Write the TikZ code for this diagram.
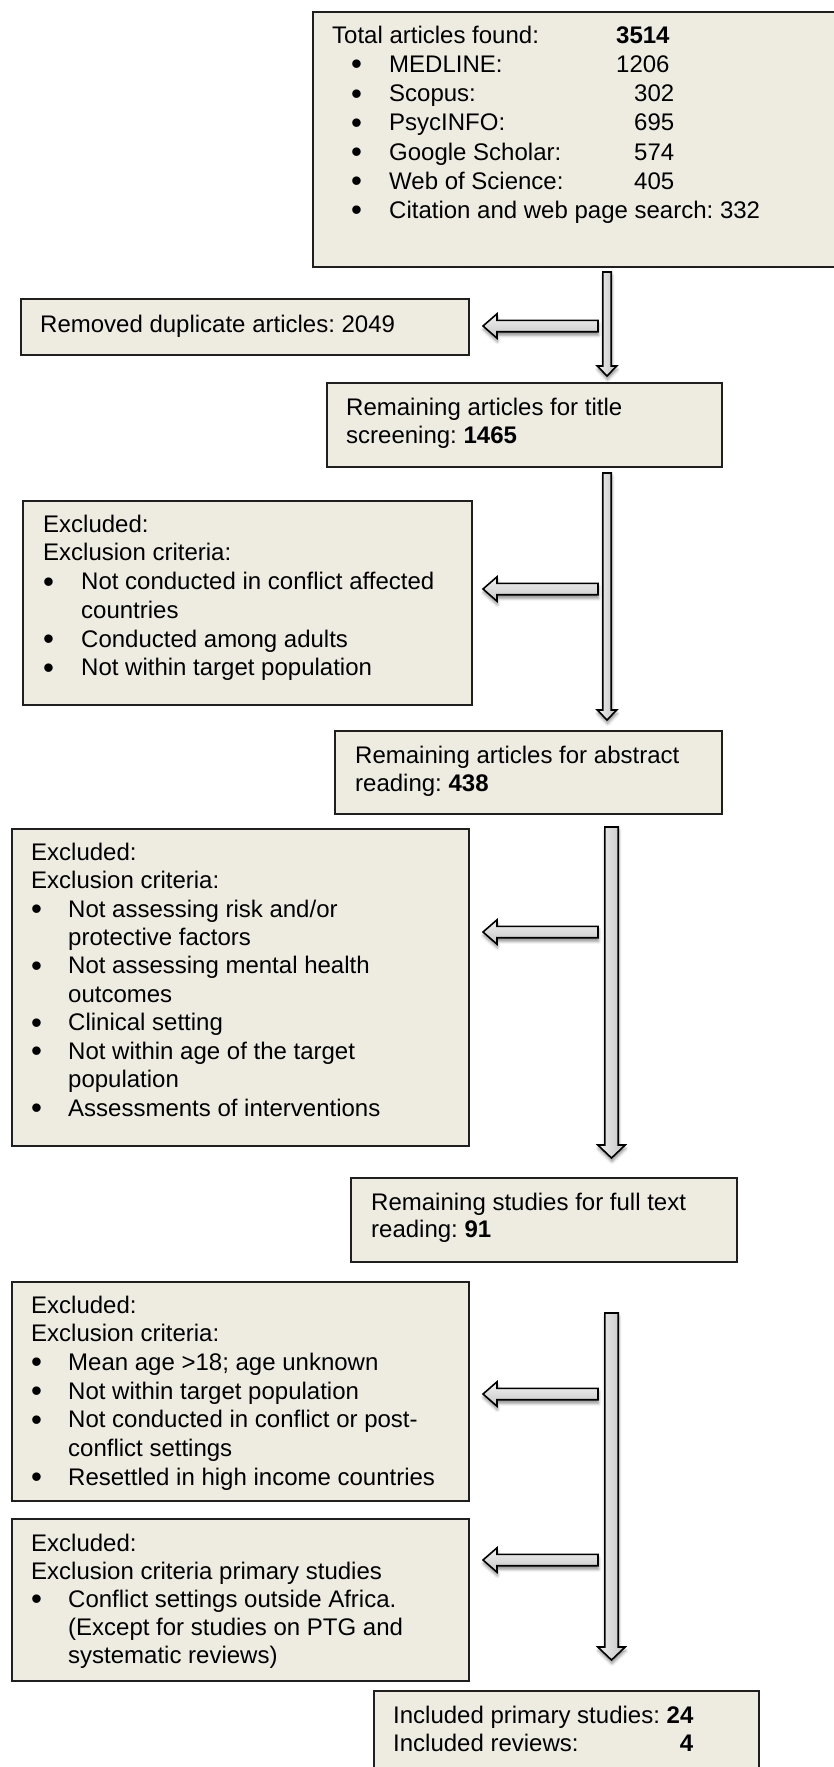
\documentclass[tikz,border=0pt]{standalone}
\usepackage{fontspec}
\usepackage{graphicx}
\setmainfont{Liberation Sans}
\usetikzlibrary{calc,shadows.blur}
\frenchspacing

\definecolor{boxfill}{HTML}{EEECE1}
\definecolor{boxline}{HTML}{1F1F1F}

% bullet marks and hanging indents for the list lines
\newcommand\bulletdot{\raisebox{-2.4pt}{\scalebox{1.3}{•}}}
\newcommand\toplistbullet{\hspace*{19pt}\makebox[38pt][l]{\bulletdot}}
\newcommand\listbullet[1][37pt]{\makebox[#1][l]{\bulletdot}}
\newcommand\listgap[1][37pt]{\hspace*{#1}}
\newcommand\firstline{\rule{0pt}{20pt}}

\tikzset{
  flowbox/.style={draw=boxline, line width=1.6pt, fill=boxfill,
    anchor=north west, inner sep=0pt},
  flowtext/.style={anchor=north west, inner sep=0pt, align=left,
    font=\fontsize{24}{#1}\selectfont},
  flowtext/.default=28.6,
  blockarrow/.style={draw=black, line width=1.6pt, line join=miter,
    blur shadow={shadow xshift=0.5pt, shadow yshift=-3.5pt,
      shadow blur radius=3pt, shadow opacity=45}},
  downshade/.style={left color=gray!12, right color=gray!48},
  leftshade/.style={top color=gray!10, bottom color=gray!45},
}

% block arrow pointing down: from, to, shaft half width, head half width, head length
\newcommand\blockdown[5]{%
  \path[blockarrow, downshade] let \p1=(#1), \p2=(#2) in
    (\x1-#3pt,\y1) -- (\x1+#3pt,\y1) -- (\x1+#3pt,\y2+#5pt)
    -- (\x1+#4pt,\y2+#5pt) -- (\x2,\y2) -- (\x1-#4pt,\y2+#5pt)
    -- (\x1-#3pt,\y2+#5pt) -- cycle;}
% block arrow pointing left: tail, tip, shaft half width, head half width, head length
\newcommand\blockleft[5]{%
  \path[blockarrow, leftshade] let \p1=(#1), \p2=(#2) in
    (\x1,\y1+#3pt) -- (\x2+#5pt,\y1+#3pt) -- (\x2+#5pt,\y1+#4pt)
    -- (\x2,\y2) -- (\x2+#5pt,\y1-#4pt) -- (\x2+#5pt,\y1-#3pt)
    -- (\x1,\y1-#3pt) -- cycle;}

\begin{document}
\begin{tikzpicture}[x=1pt, y=-1pt]
\useasboundingbox (0,0) rectangle (834,1767);
\clip (0,0) rectangle (834,1767);

% boxes
\node[flowbox, minimum width=538pt, minimum height=255pt] (total)    at (312,11)   {};
\node[flowbox, minimum width=448pt, minimum height=56pt]  (removed)  at (20,298)   {};
\node[flowbox, minimum width=395pt, minimum height=84pt]  (title)    at (326,382)  {};
\node[flowbox, minimum width=449pt, minimum height=204pt] (excla)    at (22,500)   {};
\node[flowbox, minimum width=387pt, minimum height=83pt]  (abstract) at (334,730)  {};
\node[flowbox, minimum width=457pt, minimum height=317pt] (exclb)    at (11,828)   {};
\node[flowbox, minimum width=386pt, minimum height=84pt]  (fulltext) at (350,1177) {};
\node[flowbox, minimum width=457pt, minimum height=219pt] (exclc)    at (11,1281)  {};
\node[flowbox, minimum width=457pt, minimum height=162pt] (excld)    at (11,1518)  {};
\node[flowbox, minimum width=385pt, minimum height=120pt] (included) at (373,1690) {};

% box texts
\node[flowtext=29.2] (totaltxt) at (332,23) {\firstline\makebox[284pt][l]{Total articles found:}\textbf{3514}\\
  \toplistbullet\makebox[227pt][l]{MEDLINE:}1206\\
  \toplistbullet\makebox[245pt][l]{Scopus:}302\\
  \toplistbullet\makebox[245pt][l]{PsycINFO:}695\\
  \toplistbullet\makebox[245pt][l]{Google Scholar:}574\\
  \toplistbullet\makebox[245pt][l]{Web of Science:}405\\
  \toplistbullet Citation and web page search: 332};

\node[flowtext] (removedtxt) at (40,312) {\firstline Removed duplicate articles: 2049};

\node[flowtext=28] (titletxt) at (346,395) {\firstline Remaining articles for title\\
  screening: \textbf{1465}};

\node[flowtext=28.7] (excltxta) at (43,512) {\firstline Excluded:\\
  Exclusion criteria:\\
  \listbullet[38pt]Not conducted in conflict affected\\
  \listgap[38pt]countries\\
  \listbullet[38pt]Conducted among adults\\
  \listbullet[38pt]Not within target population};

\node[flowtext=28] (abstracttxt) at (355,743) {\firstline Remaining articles for abstract\\
  reading: \textbf{438}};

\node[flowtext=28.44] (excltxtb) at (31,840) {\firstline Excluded:\\
  Exclusion criteria:\\
  \listbullet Not assessing risk and/or\\
  \listgap protective factors\\
  \listbullet Not assessing mental health\\
  \listgap outcomes\\
  \listbullet Clinical setting\\
  \listbullet Not within age of the target\\
  \listgap population\\
  \listbullet Assessments of interventions};

\node[flowtext=27] (fulltexttxt) at (371,1190) {\firstline Remaining studies for full text\\
  reading: \textbf{91}};

\node[flowtext=28.67] (excltxtc) at (31,1293) {\firstline Excluded:\\
  Exclusion criteria:\\
  \listbullet Mean age >18; age unknown\\
  \listbullet Not within target population\\
  \listbullet Not conducted in conflict or post-\\
  \listgap conflict settings\\
  \listbullet Resettled in high income countries};

\node[flowtext=28] (excltxtd) at (31,1531) {\firstline Excluded:\\
  Exclusion criteria primary studies\\
  \listbullet Conflict settings outside Africa.\\
  \listgap (Except for studies on PTG and\\
  \listgap systematic reviews)};

\node[flowtext=28] (includedtxt) at (393,1703) {\firstline Included primary studies: \textbf{24}\\
  \makebox[273.4pt][l]{Included reviews:}\hphantom{\textbf{2}}\textbf{4}};

% arrow end points
\coordinate (va1) at (607,272);    \coordinate (vb1) at (607,376);
\coordinate (va2) at (607,473);    \coordinate (vb2) at (607,720);
\coordinate (va3) at (611.5,827);  \coordinate (vb3) at (611.5,1158);
\coordinate (va4) at (611.5,1313); \coordinate (vb4) at (611.5,1660);
\coordinate (ha1) at (598,326);  \coordinate (hb1) at (483,326);
\coordinate (ha2) at (598,589);  \coordinate (hb2) at (483,589);
\coordinate (ha3) at (598,932);  \coordinate (hb3) at (483,932);
\coordinate (ha4) at (598,1394); \coordinate (hb4) at (483,1394);
\coordinate (ha5) at (598,1560); \coordinate (hb5) at (483,1560);

% side arrows to the exclusion boxes
\blockleft{ha1}{hb1}{5.7}{12.2}{14}
\blockleft{ha2}{hb2}{5.7}{12.2}{14}
\blockleft{ha3}{hb3}{5.7}{12.2}{14}
\blockleft{ha4}{hb4}{5.7}{12.2}{14}
\blockleft{ha5}{hb5}{5.7}{12.2}{14}

% main flow arrows
\blockdown{va1}{vb1}{4.2}{9.7}{10}
\blockdown{va2}{vb2}{4.2}{9.7}{10}
\blockdown{va3}{vb3}{6.7}{13.7}{13}
\blockdown{va4}{vb4}{6.7}{13.7}{13}
\end{tikzpicture}
\end{document}
